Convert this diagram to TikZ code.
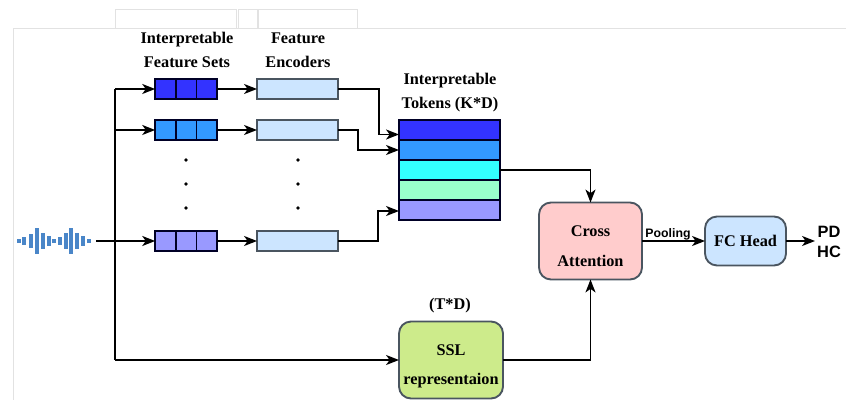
\documentclass[tikz,border=0pt]{standalone}
\usepackage{fontspec}
\setmainfont{Liberation Serif}
\setsansfont{Liberation Sans}
\usepackage{xcolor}
\usetikzlibrary{positioning,arrows.meta}
\definecolor{frameg}{HTML}{E2E2E2}
\definecolor{tokA}{HTML}{3333FF}
\definecolor{tokB}{HTML}{3399FF}
\definecolor{tokC}{HTML}{33FFFF}
\definecolor{tokD}{HTML}{99FFCC}
\definecolor{tokE}{HTML}{9999FF}
\definecolor{paleblue}{HTML}{CCE5FF}
\definecolor{palered}{HTML}{FFCCCC}
\definecolor{palegreen}{HTML}{CDEB8B}
\definecolor{edgeg}{HTML}{4A5560}
\definecolor{wavec}{HTML}{4A86C8}
\tikzset{
	cell/.style={draw=black!85!blue,line width=1.5pt,minimum width=0.62cm,minimum height=0.6cm,inner sep=0,outer sep=0},
	encbox/.style={draw=edgeg,line width=1.6pt,fill=paleblue,minimum width=2.43cm,minimum height=0.6cm,inner sep=0,outer sep=0},
	tokrow/.style={draw=black!85!blue,line width=1.5pt,minimum width=3.03cm,minimum height=0.6cm,inner sep=0,outer sep=0},
	block/.style={draw=edgeg,line width=1.6pt,rounded corners=0.36cm,inner sep=0,outer sep=0,align=center,font=\headfont},
	head/.style={align=center,font=\headfont},
	link/.style={draw=black,line width=1.5pt,-{Stealth[length=11pt,width=8.5pt,inset=3pt]}},
	plain/.style={draw=black,line width=1.5pt},
	gdot/.style={circle,fill=black,inner sep=0,minimum size=3pt},
	frameline/.style={draw=frameg,line width=0.7pt}
}
\newcommand{\headfont}{\bfseries\fontsize{13.9}{20.5}\selectfont}
\begin{document}
\begin{tikzpicture}[x=0.03cm,y=-0.03cm]
	\useasboundingbox (0,0) rectangle (846,400);
	% page frame
	\draw[frameline] (13,400)--(13,28)--(846,28);
	\draw[frameline] (115,28)--(115,9)--(236,9)--(236,28);
	\draw[frameline] (238,28)--(238,9)--(257,9)--(257,28);
	\draw[frameline] (258,28)--(258,9)--(357,9)--(357,28);
	% waveform
	\foreach \x/\h in {19/2,24/4,31/7,37/13,43/8,49/5,54/2,60/4,66/8,71/13,77/8,83/5,89/2}
		\draw[wavec,line width=2.9pt] (\x,241-\h)--(\x,241+\h);
	\coordinate (wave) at (96,241);
	\coordinate (split) at (115,241);
	\coordinate (low) at (115,360);
	\coordinate (up) at (115,89);
	% feature sets
	\node[cell,fill=tokA] (s1a) at (165.5,89) {};
	\node[cell,fill=tokA,right=0pt of s1a] (s1b) {};
	\node[cell,fill=tokA,right=0pt of s1b] (s1c) {};
	\node[cell,fill=tokB] (s2a) at (165.5,130) {};
	\node[cell,fill=tokB,right=0pt of s2a] (s2b) {};
	\node[cell,fill=tokB,right=0pt of s2b] (s2c) {};
	\node[cell,fill=tokE] (s3a) at (165.5,241) {};
	\node[cell,fill=tokE,right=0pt of s3a] (s3b) {};
	\node[cell,fill=tokE,right=0pt of s3b] (s3c) {};
	\node[head] (lsets) at (187,50) {Interpretable\\Feature Sets};
	% encoders
	\node[encbox] (enc1) at (297.5,89) {};
	\node[encbox] (enc2) at (297.5,130) {};
	\node[encbox] (enc3) at (297.5,241) {};
	\node[head] (lenc) at (298,50) {Feature\\Encoders};
	\foreach \y [count=\i] in {160,184,208}{
		\node[gdot] (da\i) at (186,\y) {};
		\node[gdot] (db\i) at (298,\y) {};
	}
	% tokens
	\node[tokrow,fill=tokA] (tok1) at (449.5,130) {};
	\node[tokrow,fill=tokB,below=0pt of tok1] (tok2) {};
	\node[tokrow,fill=tokC,below=0pt of tok2] (tok3) {};
	\node[tokrow,fill=tokD,below=0pt of tok3] (tok4) {};
	\node[tokrow,fill=tokE,below=0pt of tok4] (tok5) {};
	\node[head] (ltok) at (450,93) {Interpretable\\Tokens (K*D)};
	% blocks
	\node[block,fill=palered,minimum width=3.09cm,minimum height=2.31cm] (cross) at (590.5,241) {};
	\node[head] (lcross) at (590.5,246) {Cross\\[5.5pt]Attention};
	\node[block,fill=paleblue,minimum width=2.43cm,minimum height=1.47cm] (fc) at (745.5,241) {FC Head};
	\node[block,fill=palegreen,minimum width=3.12cm,minimum height=2.31cm] (ssl) at (451,360) {};
	\node[head] (lssl) at (451,366) {SSL\\[4.5pt]representaion};
	\node[head] (ltd) at (450,306) {(T*D)};
	\node[font=\sffamily\bfseries\fontsize{14}{17}\selectfont,align=center] (out) at (829,242) {PD\\HC};
	\node[font=\sffamily\bfseries\fontsize{10.5}{12}\selectfont] (lpool) at (668,234) {Pooling};
	\coordinate (outend) at (815,241);
	% connectors
	\draw[plain] (wave)--(split);
	\draw[plain] (up)--(low);
	\draw[link] (split)--(s3a.west);
	\draw[link] (up)--(s1a.west);
	\draw[link] (split|-s2a)--(s2a.west);
	\draw[link] (low)--(ssl.west);
	\draw[link] (s1c.east)--(enc1.west);
	\draw[link] (s2c.east)--(enc2.west);
	\draw[link] (s3c.east)--(enc3.west);
	\coordinate (in1) at (399,134.5);
	\coordinate (in2) at (399,150);
	\coordinate (in3) at (399,211);
	\draw[link] (enc1.east)-|(379,134.5)--(in1);
	\draw[link] (enc2.east)-|(358,150)--(in2);
	\draw[link] (enc3.east)-|(378,211)--(in3);
	\draw[link] (tok3.east)-|(cross.north);
	\draw[link] (ssl.east)-|(cross.south);
	\draw[link] (cross.east)--(fc.west);
	\draw[link] (fc.east)--(outend);
\end{tikzpicture}
\end{document}
